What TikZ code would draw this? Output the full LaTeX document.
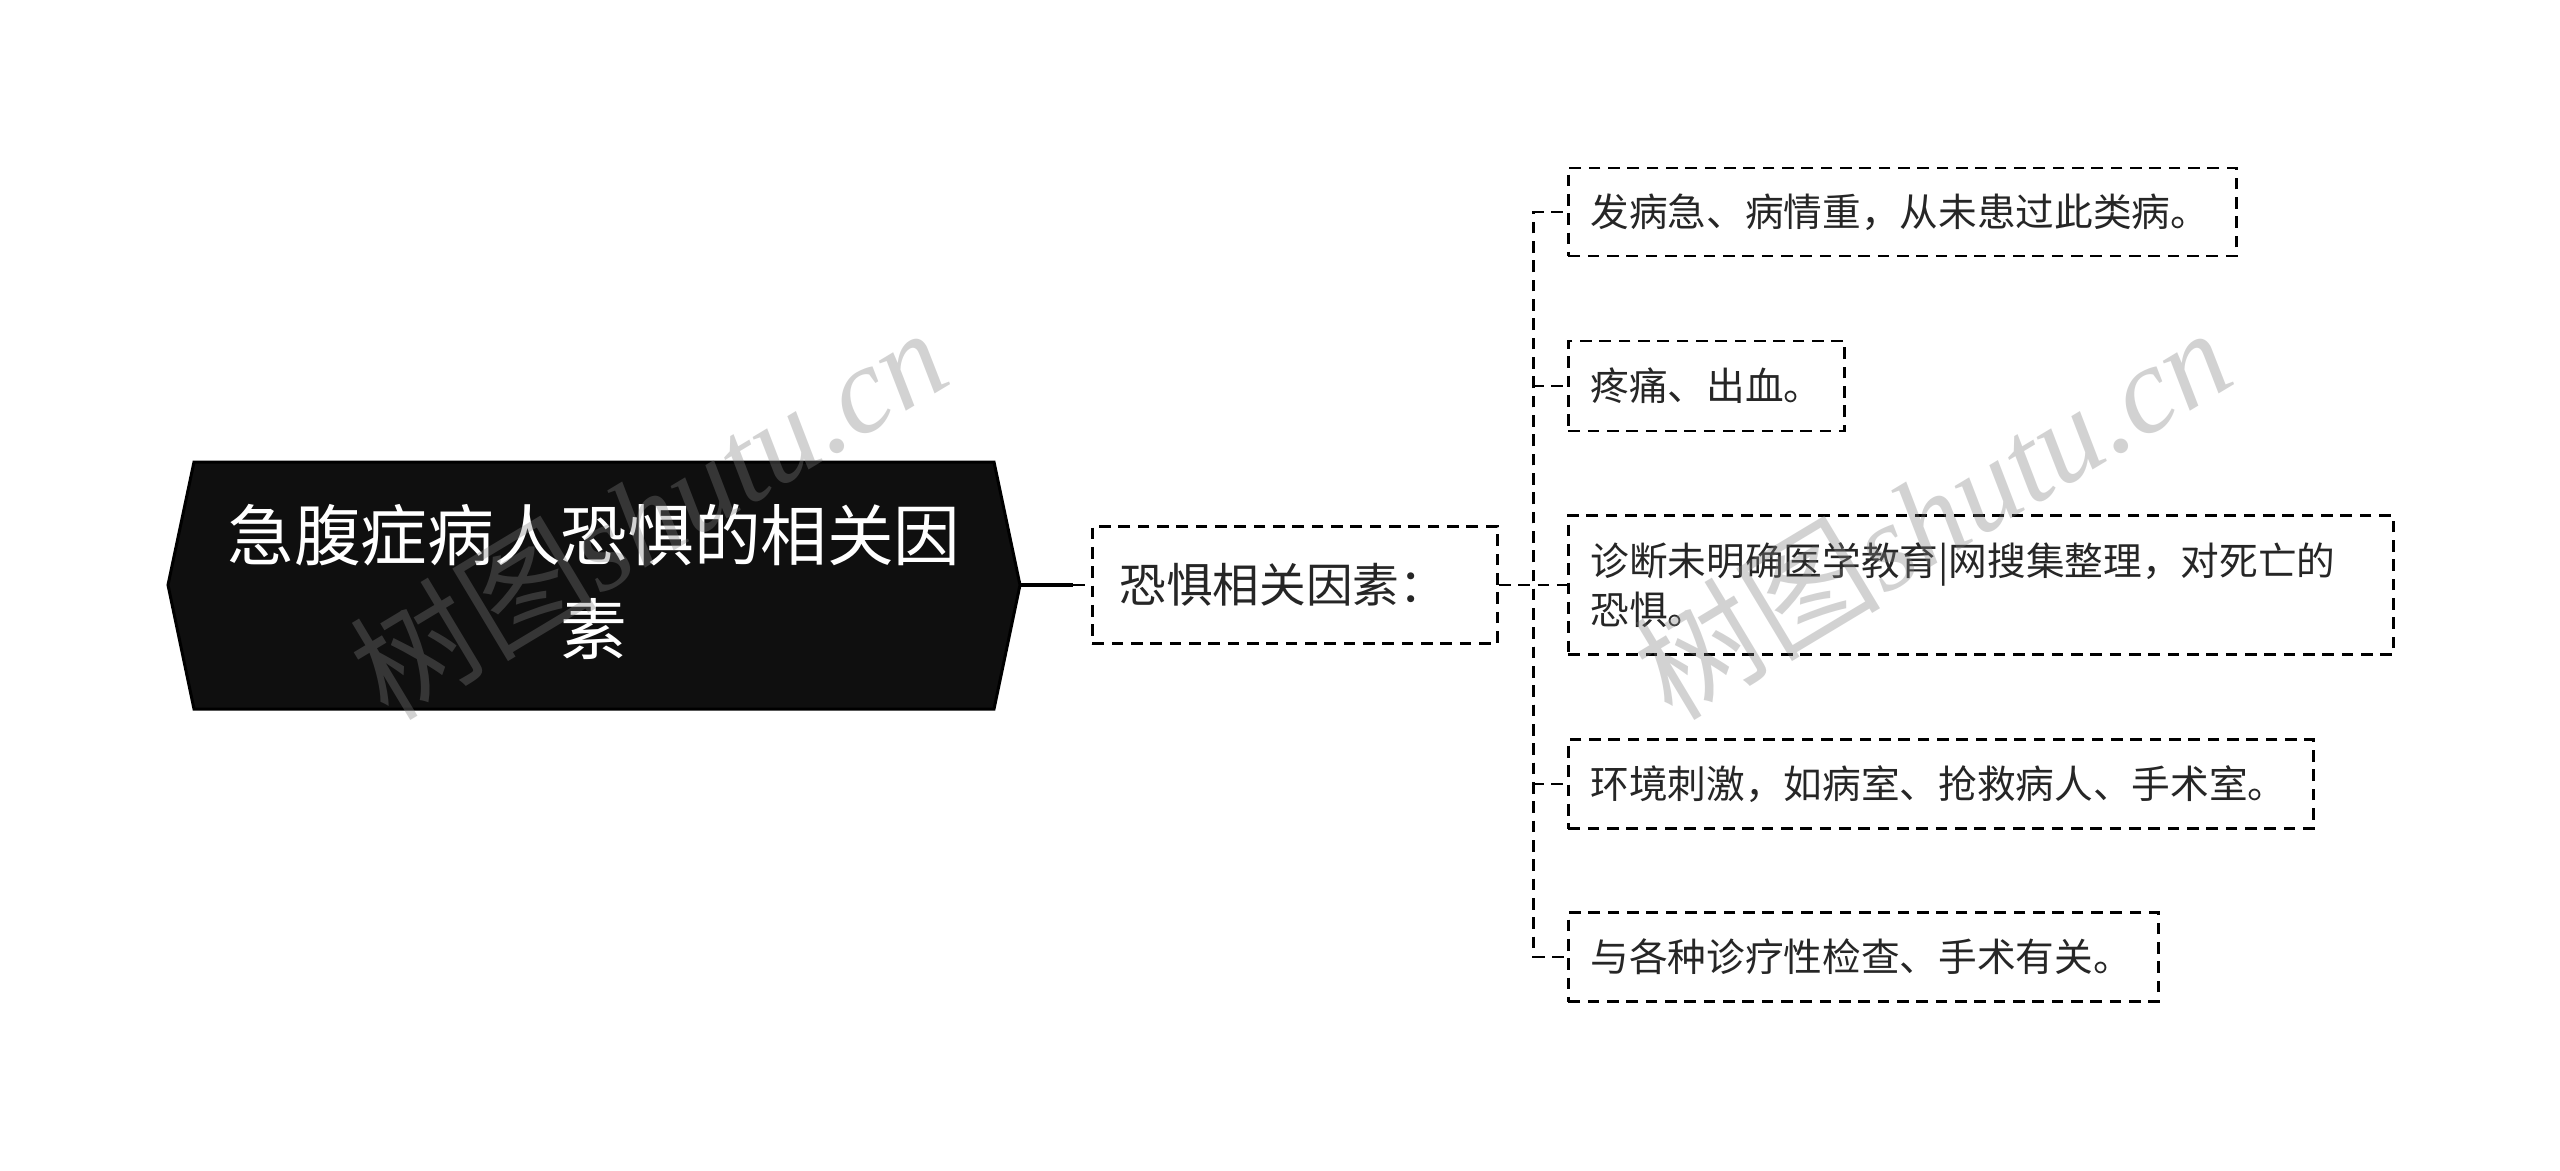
\documentclass[tikz,border=0pt]{standalone}
\usepackage{fontspec}
\setmainfont{Noto Sans CJK SC}
\newfontfamily\wmlatin{Liberation Serif}
\begin{document}
\begin{tikzpicture}[x=0.3pt,y=-0.3pt,
  dashbox/.style={draw=black,line width=0.85pt,dash pattern=on 3.5pt off 2.3pt,fill=white},
  conn/.style={draw=black,line width=0.85pt,dash pattern=on 3.5pt off 2.3pt},
  leaf/.style={dashbox,anchor=west,inner xsep=6.6pt,inner ysep=0pt,align=left,
     font=\fontsize{11.6}{14.7}\selectfont,text=black!85},
  wm/.style={text=gray,opacity=0.35,rotate=31,font=\fontsize{37}{37}\selectfont}]
\useasboundingbox[fill=white] (0,0) rectangle (2560,1171);
% root
\draw[fill=black!94,draw=black,line width=0.9pt]
  (168,585) -- (194,462) -- (994,462) -- (1020,585) -- (994,709) -- (194,709) -- cycle;
\node[text=white,align=center,font=\fontsize{20}{28}\selectfont] (root) at (594,582)
  {急腹症病人恐惧的相关因\\素};
\coordinate (rootR) at (1020,585);
\coordinate (rootJ) at (1073,585);
% middle
\node[dashbox,anchor=west,minimum height=35.1pt,text width=105.3pt,inner xsep=8.1pt,
  align=left,font=\fontsize{14}{16}\selectfont,text=black!85] (mid) at (1091,585) {恐惧相关因素：};
% leaves
\node[leaf,minimum height=26.4pt,text width=187.2pt] (l1) at (1567,212) {发病急、病情重，从未患过此类病。};
\node[leaf,minimum height=27pt,text width=69.6pt] (l2) at (1567,386) {疼痛、出血。};
\node[leaf,minimum height=41.7pt,text width=234.3pt] (l3) at (1567,585) {诊断未明确医学教育|网搜集整理，对死亡的\\恐惧。};
\node[leaf,minimum height=26.7pt,text width=210.3pt] (l4) at (1567,784) {环境刺激，如病室、抢救病人、手术室。};
\node[leaf,minimum height=26.7pt,text width=163.8pt] (l5) at (1567,957) {与各种诊疗性检查、手术有关。};
% connectors
\draw[line width=1.2pt] (rootR) -- (rootJ);
\draw[conn] (rootJ) -- (mid.west);
\foreach \l in {l1,l2,l3,l4,l5}{
  \draw[conn] (mid.east) -- ++(35,0) |- (\l.west);
}
% watermarks
\node[wm] (wm1) at (648,512) {树图{\wmlatin\itshape shutu.cn}};
\node[wm] (wm2) at (1932,512) {树图{\wmlatin\itshape shutu.cn}};
\end{tikzpicture}
\end{document}
